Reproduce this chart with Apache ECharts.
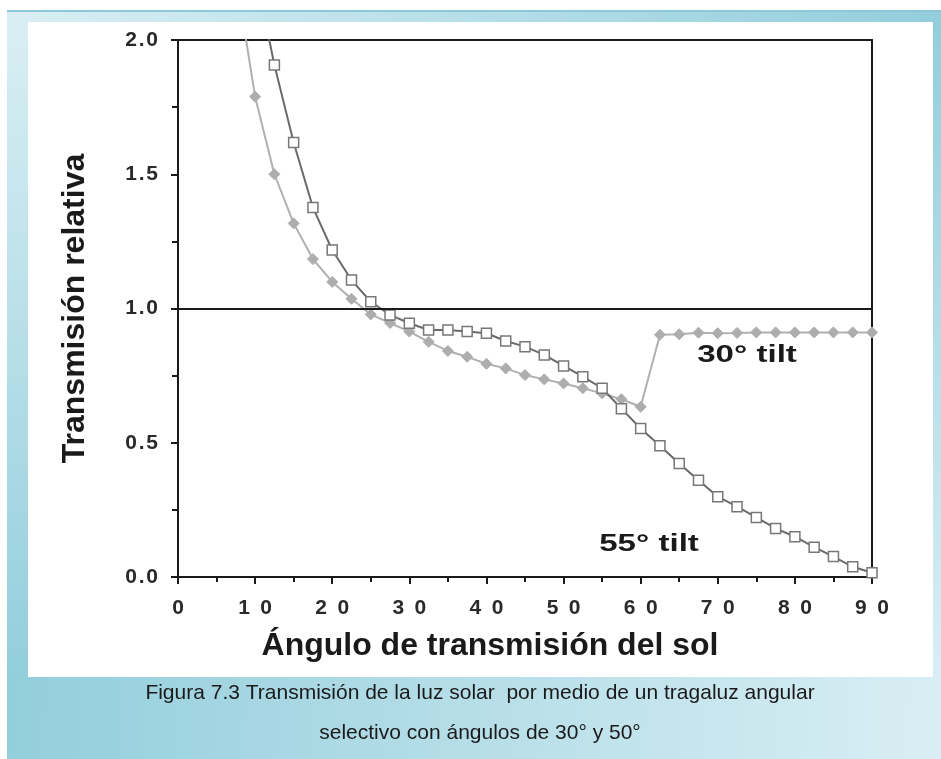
<!DOCTYPE html>
<html>
<head>
<meta charset="utf-8">
<script src="https://cdn.jsdelivr.net/npm/echarts@6/dist/echarts.min.js"></script>
<style>
html,body{margin:0;padding:0;background:#ffffff;}
#chart{width:941px;height:759px;}
</style>
</head>
<body>
<div id="chart"></div>
<script>
// Data (angle in degrees, relative transmission)
const tilt55X = [10, 12.5, 15, 17.5, 20, 22.5, 25, 27.5, 30, 32.5, 35, 37.5, 40, 42.5, 45, 47.5, 50, 52.5, 55, 57.5, 60, 62.5, 65, 67.5, 70, 72.5, 75, 77.5, 80, 82.5, 85, 87.5, 90];
const tilt55Y = [2.26, 1.907, 1.618, 1.376, 1.218, 1.106, 1.025, 0.976, 0.945, 0.92, 0.92, 0.914, 0.908, 0.879, 0.858, 0.827, 0.786, 0.746, 0.703, 0.627, 0.553, 0.489, 0.423, 0.36, 0.299, 0.262, 0.222, 0.181, 0.15, 0.111, 0.076, 0.038, 0.016];
const tilt30X = [7.5, 10, 12.5, 15, 17.5, 20, 22.5, 25, 27.5, 30, 32.5, 35, 37.5, 40, 42.5, 45, 47.5, 50, 52.5, 55, 57.5, 60, 62.5, 65, 67.5, 70, 72.5, 75, 77.5, 80, 82.5, 85, 87.5, 90];
const tilt30Y = [2.24, 1.789, 1.50, 1.317, 1.184, 1.099, 1.036, 0.978, 0.946, 0.914, 0.876, 0.842, 0.82, 0.794, 0.777, 0.752, 0.736, 0.721, 0.703, 0.684, 0.662, 0.634, 0.902, 0.904, 0.91, 0.908, 0.909, 0.911, 0.911, 0.911, 0.911, 0.911, 0.911, 0.911];
const refLineValue = 1.0;
const xTitle = 'Ángulo de transmisión del sol';
const yTitle = 'Transmisión relativa';
const label30 = '30° tilt';
const label55 = '55° tilt';
const captionLines = ['Figura 7.3 Transmisión de la luz solar  por medio de un tragaluz angular', 'selectivo con ángulos de 30° y 50°'];

const chart = echarts.init(document.getElementById('chart'), null, {renderer: 'canvas'});
const dark = '#93cedc', light = '#d9eef4';
const lin = (x, y, x2, y2, c0, c1) => ({type: 'linear', x, y, x2, y2, colorStops: [{offset: 0, color: c0}, {offset: 1, color: c1}]});
const FONT = 'Liberation Sans';

chart.setOption({
  animation: false,
  backgroundColor: '#ffffff',
  graphic: [
    {type: 'rect', z: -10, shape: {x: 7, y: 10, width: 934, height: 12}, style: {fill: lin(0, 0, 1, 0, light, dark)}},
    {type: 'rect', z: -10, shape: {x: 7, y: 10, width: 934, height: 2}, style: {fill: '#8cc9d8'}},
    {type: 'rect', z: -10, shape: {x: 7, y: 22, width: 21, height: 655}, style: {fill: lin(0, 0, 0, 1, light, dark)}},
    {type: 'rect', z: -10, shape: {x: 933, y: 22, width: 8, height: 655}, style: {fill: lin(0, 0, 0, 1, dark, light)}},
    {type: 'rect', z: -10, shape: {x: 7, y: 677, width: 934, height: 82}, style: {fill: lin(0, 0.3, 1, 0.7, dark, light)}},
    {type: 'text', z: 10, x: 480, y: 693, style: {text: captionLines[0], font: '21px ' + FONT, fill: '#1a1a1a', align: 'center', verticalAlign: 'middle'}},
    {type: 'text', z: 10, x: 480, y: 733, style: {text: captionLines[1], font: '21px ' + FONT, fill: '#1a1a1a', align: 'center', verticalAlign: 'middle'}},
    {type: 'text', z: 10, x: 747, y: 355, scaleX: 1.38, style: {text: label30, font: 'bold 24px ' + FONT, fill: '#1a1a1a', align: 'center', verticalAlign: 'middle'}},
    {type: 'text', z: 10, x: 649, y: 544, scaleX: 1.38, style: {text: label55, font: 'bold 24px ' + FONT, fill: '#1a1a1a', align: 'center', verticalAlign: 'middle'}}
  ],
  grid: {left: 178, right: 69, top: 40, bottom: 182, show: true, borderColor: '#1a1a1a', borderWidth: 2, backgroundColor: 'transparent'},
  xAxis: {
    type: 'value', min: 0, max: 90, interval: 10,
    name: xTitle, nameLocation: 'middle', nameGap: 53,
    nameTextStyle: {fontFamily: FONT, fontWeight: 'bold', fontSize: 32, color: '#1a1a1a', padding: [0, 70, 0, 0]},
    axisLine: {show: true, lineStyle: {color: '#1a1a1a', width: 2}},
    axisTick: {show: true, inside: false, length: 7, lineStyle: {color: '#1a1a1a', width: 2}},
    minorTick: {show: true, splitNumber: 2, length: 5, lineStyle: {color: '#1a1a1a', width: 2}},
    splitLine: {show: false},
    axisLabel: {margin: 21, fontFamily: FONT, fontWeight: 'bold', fontSize: 21, color: '#2a2a2a',
      formatter: v => String(v).split('').join('\u2002')}
  },
  yAxis: {
    type: 'value', min: 0, max: 2, interval: 0.5,
    name: yTitle, nameLocation: 'middle', nameGap: 87, nameRotate: 90,
    nameTextStyle: {fontFamily: FONT, fontWeight: 'bold', fontSize: 32, color: '#1a1a1a'},
    axisLine: {show: true, lineStyle: {color: '#1a1a1a', width: 2}},
    axisTick: {show: true, inside: false, length: 7, lineStyle: {color: '#1a1a1a', width: 2}},
    minorTick: {show: true, splitNumber: 2, length: 6, lineStyle: {color: '#1a1a1a', width: 2}},
    splitLine: {show: false},
    axisLabel: {margin: 20, fontFamily: FONT, fontWeight: 'bold', fontSize: 21, color: '#2a2a2a',
      formatter: v => v.toFixed(1).split('').join('\u200A')}
  },
  series: [
    {
      name: '30° tilt', type: 'line', clip: true, z: 3,
      data: tilt30X.map((x, i) => [x, tilt30Y[i]]),
      symbol: 'diamond', symbolSize: [11, 11], showAllSymbol: true,
      lineStyle: {color: '#b0b0b0', width: 2},
      itemStyle: {color: '#adadad', borderColor: '#adadad', borderWidth: 1},
      markLine: {silent: true, symbol: ['none', 'none'], label: {show: false},
        lineStyle: {color: '#1a1a1a', width: 2, type: 'solid'}, data: [{yAxis: refLineValue}]}
    },
    {
      name: '55° tilt', type: 'line', clip: true, z: 4,
      data: tilt55X.map((x, i) => [x, tilt55Y[i]]),
      symbol: 'rect', symbolSize: [10, 10], showAllSymbol: true,
      lineStyle: {color: '#6a6a6a', width: 2},
      itemStyle: {color: '#ffffff', borderColor: '#777777', borderWidth: 1.5}
    }
  ]
});
</script>
</body>
</html>
